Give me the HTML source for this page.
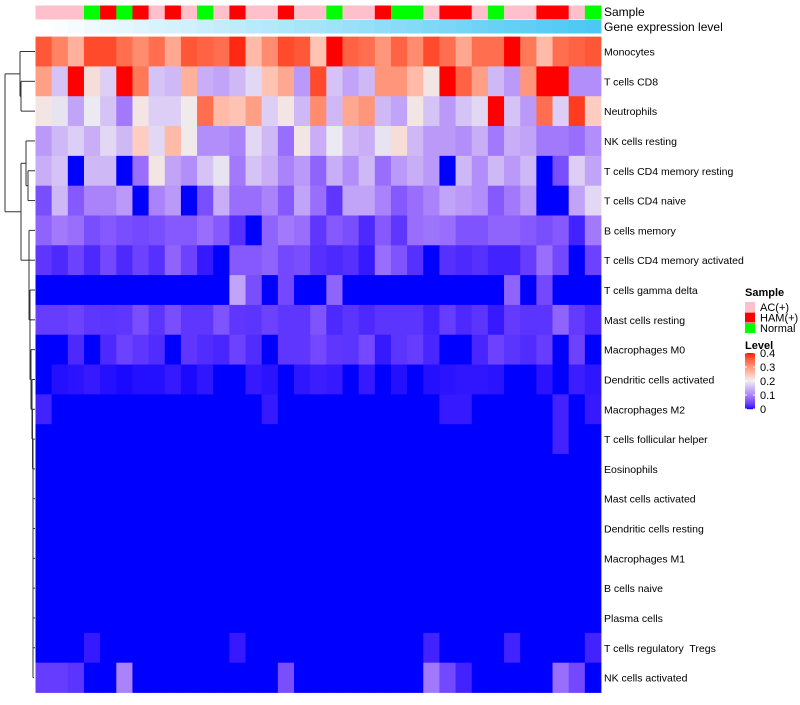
<!DOCTYPE html>
<html><head><meta charset="utf-8"><style>
body{margin:0;background:#fff;font-family:"Liberation Sans",sans-serif;}
svg text{font-family:"Liberation Sans",sans-serif;white-space:pre;}
</style></head><body>
<svg id="chart" width="800" height="700" xmlns="http://www.w3.org/2000/svg">
<g id="dendro" stroke="#333" stroke-width="1" fill="none"></g>
<g id="cells"></g>
<g id="anno"></g>
<g id="labels" font-size="10.5" fill="#000"></g>
<text x="604" y="16" font-size="12">Sample</text>
<text x="604" y="31" font-size="12">Gene expression level</text>
<g id="legend"></g>
</svg>
<script>
const rows=["Monocytes","T cells CD8","Neutrophils","NK cells resting","T cells CD4 memory resting","T cells CD4 naive","B cells memory","T cells CD4 memory activated","T cells gamma delta","Mast cells resting","Macrophages M0","Dendritic cells activated","Macrophages M2","T cells follicular helper","Eosinophils","Mast cells activated","Dendritic cells resting","Macrophages M1","B cells naive","Plasma cells","T cells regulatory  Tregs","NK cells activated"];
const samples=["AC","AC","AC","N","H","N","H","AC","H","AC","N","AC","H","AC","AC","H","AC","AC","N","AC","AC","H","N","N","AC","H","H","AC","N","AC","AC","H","H","AC","N"];
const geneLevel=[0,0.03,0.06,0.09,0.12,0.15,0.18,0.21,0.24,0.27,0.3,0.33,0.36,0.39,0.42,0.45,0.48,0.5,0.53,0.56,0.59,0.62,0.65,0.68,0.71,0.74,0.77,0.8,0.83,0.86,0.89,0.92,0.95,0.98,1];
const monocytes=[.36,.32,.27,.37,.37,.34,.31,.34,.28,.36,.35,.34,.39,.26,.31,.37,.36,.25,.4,.35,.34,.3,.35,.31,.37,.34,.28,.34,.34,.4,.33,.26,.34,.35,.36];
const cd8=[.29,.16,.4,.22,.17,.4,.33,.16,.15,.27,.14,.13,.15,.18,.25,.28,.12,.37,.16,.13,.15,.3,.3,.26,.21,.4,.35,.29,.15,.12,.3,.4,.4,.11,.11];
const neutro=[.21,.19,.13,.195,.16,.09,.21,.17,.17,.205,.34,.26,.25,.29,.17,.21,.15,.31,.15,.28,.3,.15,.13,.21,.16,.12,.16,.18,.4,.16,.12,.34,.17,.38,.24];
const nkRest=[.12,.15,.17,.14,.18,.15,.24,.18,.26,.205,.11,.11,.1,.18,.15,.08,.21,.14,.195,.15,.14,.19,.22,.15,.12,.12,.11,.14,.09,.14,.13,.09,.09,.08,.11];
const cd4MemRest=[.14,.16,0,.15,.15,0,.08,.21,.13,.11,.16,.19,.09,.16,.14,.1,.12,.07,.14,.11,.15,.08,.12,.14,.12,0,.15,.11,.15,.12,.15,0,.05,.17,.13];
const cd4Naive=[.05,.15,.06,.1,.1,.12,0,.1,.12,0,.05,.14,.08,.08,.1,.06,.13,.08,.03,.13,.13,.1,.06,.08,.1,.13,.12,.11,.06,.09,.12,0,0,.13,.18];
const bMem=[.07,.09,.08,.05,.06,.05,.045,.05,.06,.06,.08,.06,.025,0,.07,.09,.08,.03,.06,.05,.02,.06,.03,.08,.085,.08,.055,.055,.07,.07,.06,.05,.06,.015,.09];
const cd4MemAct=[.03,.02,.04,.02,.045,.02,.04,.025,.07,.04,.01,0,.06,.06,.07,.045,.05,.025,.02,.025,.01,.08,.055,.025,0,.025,.02,.025,.015,.015,.035,.08,.045,0,.04];
const gammaDelta=[0,0,0,0,0,0,0,0,0,0,0,0,.13,.05,0,.045,0,0,.07,0,0,0,0,0,0,0,0,0,0,.07,0,.045,0,0,0];
const mastRest=[.035,.035,.04,.03,.028,.03,.05,.028,.05,.03,.03,.055,.03,.028,.04,.03,.03,.055,.02,.028,.02,.028,.028,.028,.015,.035,.02,.028,.01,.033,.028,.028,.07,.033,.02];
const m0=[0,0,.02,0,.02,.04,.03,.022,0,.03,.022,.018,.04,.022,0,.03,.03,.045,.03,.028,.045,.01,.028,.035,.018,0,0,.018,.04,.028,.022,.035,0,.04,0];
const dcAct=[0,.005,.007,.01,.005,.003,.005,.005,.01,.003,.008,0,0,.01,.007,0,.008,.012,.01,0,.01,0,.005,0,.005,.007,.008,.008,.007,0,0,.007,0,.012,.008];
const m2=[.015,0,0,0,0,0,0,0,0,0,0,0,0,0,.01,0,0,0,0,0,0,0,0,0,0,.01,.01,0,0,0,0,0,.015,0,.01];
const tfh=[0,0,0,0,0,0,0,0,0,0,0,0,0,0,0,0,0,0,0,0,0,0,0,0,0,0,0,0,0,0,0,0,.015,0,0];
const zeros=[0,0,0,0,0,0,0,0,0,0,0,0,0,0,0,0,0,0,0,0,0,0,0,0,0,0,0,0,0,0,0,0,0,0,0];
const tregs=[0,0,0,.01,0,0,0,0,0,0,0,0,.01,0,0,0,0,0,0,0,0,0,0,0,.015,0,0,0,0,.015,0,0,0,0,.015];
const nkAct=[.035,.035,.028,0,0,.1,0,0,0,0,0,0,0,0,0,.05,0,0,0,0,0,0,0,0,.09,.045,.015,0,0,0,0,0,.08,.045,0];
const matrix=[monocytes,cd8,neutro,nkRest,cd4MemRest,cd4Naive,bMem,cd4MemAct,gammaDelta,mastRest,m0,dcAct,m2,tfh,zeros,zeros,zeros,zeros,zeros,zeros,tregs,nkAct];
const ticks=[0,0.1,0.2,0.3,0.4];

const NS="http://www.w3.org/2000/svg";
const X0=35.5,X1=601,Y0=36.6,Y1=692.5;
const cw=(X1-X0)/samples.length, rh=(Y1-Y0)/rows.length;
const xs=i=>X0+i*cw, ys=j=>Y0+j*rh;
function mk(tag,attrs,parent){const e=document.createElementNS(NS,tag);for(const k in attrs)e.setAttribute(k,attrs[k]);parent.appendChild(e);return e;}
function toLin(c){c/=255;return c<=0.04045?c/12.92:Math.pow((c+0.055)/1.055,2.4);}
function fromLin(c){c=c<=0.0031308?12.92*c:1.055*Math.pow(c,1/2.4)-0.055;return Math.max(0,Math.min(255,Math.round(c*255)));}
function rgb2lab(r,g,b){r=toLin(r);g=toLin(g);b=toLin(b);let x=(r*0.4124+g*0.3576+b*0.1805)/0.95047,y=r*0.2126+g*0.7152+b*0.0722,z=(r*0.0193+g*0.1192+b*0.9505)/1.08883;const f=t=>t>0.008856?Math.cbrt(t):7.787*t+16/116;x=f(x);y=f(y);z=f(z);return[116*y-16,500*(x-y),200*(y-z)];}
function lab2rgb(L,a,bb){let y=(L+16)/116,x=a/500+y,z=y-bb/200;const f=t=>t*t*t>0.008856?t*t*t:(t-16/116)/7.787;x=f(x)*0.95047;y=f(y);z=f(z)*1.08883;const r=x*3.2406+y*-1.5372+z*-0.4986,g=x*-0.9689+y*1.8758+z*0.0415,b=x*0.0557+y*-0.2040+z*1.0570;return[fromLin(r),fromLin(g),fromLin(b)];}
const LB=rgb2lab(0,0,255),LW=rgb2lab(238,238,240),LR=rgb2lab(255,0,0);
function col(v){let a,b,t;if(v<=0.2){a=LB;b=LW;t=Math.max(0,v)/0.2;}else{a=LW;b=LR;t=Math.min(0.4,v-0.2)/0.2;if(t>1)t=1;}
const c=lab2rgb(a[0]+(b[0]-a[0])*t,a[1]+(b[1]-a[1])*t,a[2]+(b[2]-a[2])*t);return`rgb(${c[0]},${c[1]},${c[2]})`;}
const sampleCol={AC:"#FFC0CB",H:"#FF0000",N:"#00FF00"};
function geneCol(v){const r=Math.round(255+(76-255)*v),g=Math.round(255+(200-255)*v),b=Math.round(255+(244-255)*v);return`rgb(${r},${g},${b})`;}

const cells=document.getElementById('cells');
matrix.forEach((row,j)=>row.forEach((v,i)=>{
  const r=mk('rect',{x:xs(i),y:ys(j),width:cw+0.4,height:rh+0.4,fill:col(v)},cells);
  
  
}));
const anno=document.getElementById('anno');
samples.forEach((s,i)=>{
  const r=mk('rect',{x:xs(i),y:5.5,width:cw+0.4,height:14,fill:sampleCol[s]},anno);
  
  
  const g=mk('rect',{x:xs(i),y:20,width:cw+0.4,height:13.5,fill:geneCol(geneLevel[i])},anno);
  
  
});
const labels=document.getElementById('labels');
rows.forEach((n,j)=>{
  const t=mk('text',{x:604,y:ys(j)+rh/2+4},labels);t.textContent=n;
  
  
});
const d=document.getElementById('dendro');
const cy=j=>ys(j)+rh/2;
function seg(x1,y1,x2,y2){mk('line',{x1,y1,x2,y2},d);}
function node(xa,ya,xb,yb,xn){seg(xa,ya,xn,ya);seg(xb,yb,xn,yb);seg(xn,ya,xn,yb);}
node(35,cy(1),35,cy(2),21);
node(35,cy(0),21,(cy(1)+cy(2))/2,20);
node(35,cy(4),35,cy(5),28);
node(35,cy(3),28,(cy(4)+cy(5))/2,26);
let prevY=cy(21),prevX=34;
for(let j=20;j>=13;j--){node(35,cy(j),prevX,prevY,33);prevY=(cy(j)+prevY)/2;prevX=33;}
node(35,cy(12),33,prevY,32.5);let lY=(cy(12)+prevY)/2;
node(35,cy(11),32.5,lY,32);lY=(cy(11)+lY)/2;
node(35,cy(10),32,lY,31);lY=(cy(10)+lY)/2;
node(35,cy(9),31,lY,30);lY=(cy(9)+lY)/2;
node(35,cy(8),30,lY,30);let gY=(cy(8)+lY)/2;
node(35,cy(7),31.5,gY,29);let g2=(cy(7)+gY)/2;
node(35,cy(6),29,g2,29);let bY=(cy(6)+g2)/2;
node(26,(cy(3)+(cy(4)+cy(5))/2)/2,29,bY,21);
const midA=((cy(3)+(cy(4)+cy(5))/2)/2+bY)/2;
node(20,(cy(0)+(cy(1)+cy(2))/2)/2,21,midA,5);
const lg=document.getElementById('legend');
const st=mk('text',{x:745,y:296,'font-size':11,'font-weight':'bold'},lg);st.textContent='Sample';


[["AC","AC(+)"],["H","HAM(+)"],["N","Normal"]].forEach((e,k)=>{
  const r=mk('rect',{x:745,y:302+k*10.5,width:10,height:10,fill:sampleCol[e[0]]},lg);
  
  
  const t=mk('text',{x:760,y:311+k*10.5,'font-size':11},lg);t.textContent=e[1];
  
  
});
const lt=mk('text',{x:745,y:349,'font-size':11,'font-weight':'bold'},lg);lt.textContent='Level';


const barTop=353,barBot=409;
for(let k=0;k<56;k++){const v=0.4*(1-(k+0.5)/56);mk('rect',{x:745,y:barTop+k,width:10,height:1.2,fill:col(v)},lg);}
ticks.forEach(tv=>{const y=barBot-(tv/0.4)*(barBot-barTop);
  mk('line',{x1:745,y1:y,x2:747,y2:y,stroke:'#fff','stroke-width':1},lg);
  mk('line',{x1:753,y1:y,x2:755,y2:y,stroke:'#fff','stroke-width':1},lg);
  const t=mk('text',{x:760,y:y+4,'font-size':11},lg);t.textContent=String(tv);
  
  
});
</script>
</body></html>
